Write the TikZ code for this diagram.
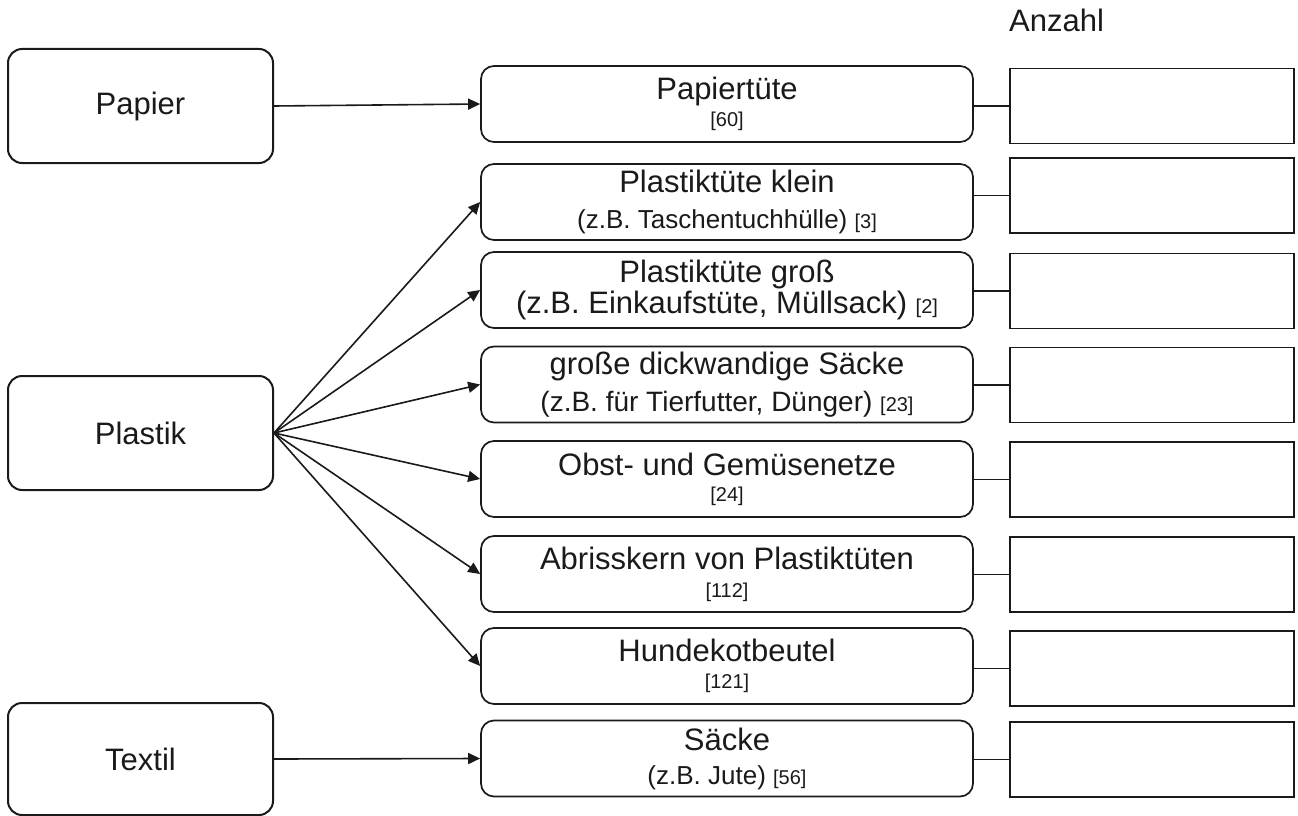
\documentclass[tikz,border=0pt]{standalone}
\usepackage{fontspec}
\setmainfont{Liberation Sans}
\usetikzlibrary{arrows.meta}
\definecolor{ink}{HTML}{1A1A1A}
\newcommand{\fsMain}{\fontsize{31}{36}\selectfont}
\newcommand{\fsMid}{\fontsize{26}{30}\selectfont}
\newcommand{\fsMidB}{\fontsize{28}{32}\selectfont}
\newcommand{\fsSm}{\fontsize{20}{23}\selectfont}
\begin{document}
\begin{tikzpicture}[x=1pt,y=-1pt,
  cat/.style={draw=ink, line width=2pt, rounded corners=14pt, minimum width=265pt, minimum height=114pt, font=\fsMain, text=ink, inner sep=0pt},
  item/.style={draw=ink, line width=1.7pt, rounded corners=13pt, minimum width=492pt, minimum height=76pt, align=center, text=ink, inner sep=0pt, font=\fontsize{31}{#1}\selectfont},
  count/.style={draw=ink, line width=1.9pt, minimum width=284pt, minimum height=75pt, inner sep=0pt},
  arr/.style={draw=ink, line width=1.6pt, -{Triangle[length=12pt,width=11pt]}},
  link/.style={draw=ink, line width=1.7pt}]
\useasboundingbox (0,0) rectangle (1298,816);
\fill[white] (0,0) rectangle (1298,816);

% category boxes
\node[cat] (papier) at (140.5,106) {Papier};
\node[cat] (plastik) at (140.5,433) {Plastik};
\node[cat, minimum height=112pt] (textil) at (140.5,759) {Textil};

% item boxes
\node[item=27] (m1) at (727,104) {Papiertüte\\{\fsSm [60]}};
\node[item=36] (m2) at (727,202) {Plastiktüte klein\\{\fsMid (z.B. Taschentuchhülle) \fsSm [3]}};
\node[item=31] (m3) at (727,290) {Plastiktüte groß\\(z.B. Einkaufstüte, Müllsack) {\fsSm [2]}};
\node[item=37] (m4) at (727,384.5) {große dickwandige Säcke\\{\fsMidB (z.B. für Tierfutter, Dünger) \fsSm [23]}};
\node[item=26] (m5) at (727,479) {Obst- und Gemüsenetze\\{\fsSm [24]}};
\node[item=28] (m6) at (727,574) {Abrisskern von Plastiktüten\\{\fsSm [112]}};
\node[item=27] (m7) at (727,666) {Hundekotbeutel\\{\fsSm [121]}};
\node[item=34] (m8) at (727,758.5) {Säcke\\{\fsMid (z.B. Jute) \fsSm [56]}};

% count boxes
\node[anchor=base west, font=\fsMain, text=ink, inner sep=0pt] (anzahl) at (1009,32) {Anzahl};
\node[count] (r1) at (1152,106) {};
\node[count] (r2) at (1152,195.5) {};
\node[count] (r3) at (1152,291) {};
\node[count] (r4) at (1152,385) {};
\node[count] (r5) at (1152,479.5) {};
\node[count] (r6) at (1152,574.5) {};
\node[count] (r7) at (1152,668.5) {};
\node[count] (r8) at (1152,759.5) {};

% arrows
\draw[arr] (papier.east) -- (m1.west);
\foreach \i in {2,...,7} {
  \draw[arr] (plastik.east) -- (m\i.west);
}
\draw[arr] (textil.east) -- (m8.west);

% links
\foreach \i in {1,...,8} {
  \draw[link] (r\i.west) -- (r\i.west -| m\i.east);
}
\end{tikzpicture}
\end{document}
